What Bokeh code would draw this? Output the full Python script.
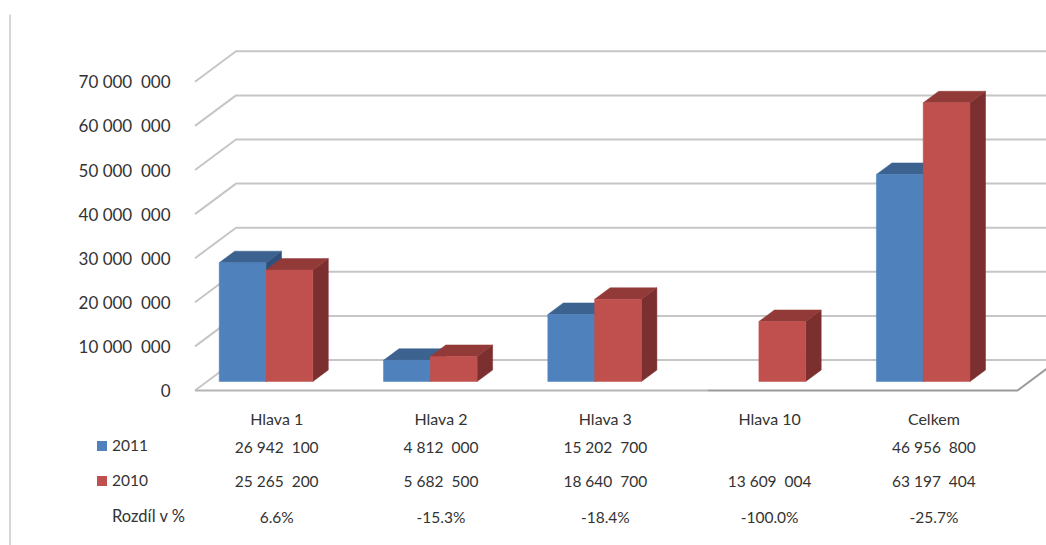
from bokeh.plotting import figure
from bokeh.models import LinearAxis, FixedTicker, ColumnDataSource, Range1d
from bokeh.core.properties import value
from bokeh.embed import file_html
from bokeh.resources import INLINE

categories = ["Hlava 1", "Hlava 2", "Hlava 3", "Hlava 10", "Celkem"]
v2011 = [26942100, 4812000, 15202700, None, 46956800]
v2010 = [25265200, 5682500, 18640700, 13609004, 63197404]
NB = "\u00a0 "
row2011 = ["26 942" + NB + "100", "4 812" + NB + "000", "15 202" + NB + "700", "", "46 956" + NB + "800"]
row2010 = ["25 265" + NB + "200", "5 682" + NB + "500", "18 640" + NB + "700", "13 609" + NB + "004", "63 197" + NB + "404"]
rowdiff = ["6.6%", "-15.3%", "-18.4%", "-100.0%", "-25.7%"]
yticks = [0, 10000000, 20000000, 30000000, 40000000, 50000000, 60000000, 70000000]
yticklabels = ["0", "10 000" + NB + "000", "20 000" + NB + "000", "30 000" + NB + "000", "40 000" + NB + "000",
               "50 000" + NB + "000", "60 000" + NB + "000", "70 000" + NB + "000"]

W, H = 1046, 545
FONT = "Lato"
TXT = "#333333"
GRID = "#c6c6c6"
FLOOR_L = "#b4b4b4"
FLOOR_R = "#9a9a9a"

# page pixels <-> data
X0, XS = 276.2, 164.3      # page x of label of group 0, page px per group
Y0, YS = 390.0, 44.1 / 1e7 # page y of value 0 (front plane), page px per unit
def dx(px): return px / XS
def dy(px): return px / YS
def fx(px): return (px - X0) / XS
def fy(py): return (Y0 - py) / YS

p = figure(width=W, height=H, output_backend="svg", toolbar_location=None,
           x_range=Range1d(fx(0), fx(W)), y_range=Range1d(fy(H), fy(0)),
           min_border=0, min_border_left=0, min_border_right=0,
           min_border_top=0, min_border_bottom=0, x_axis_type=None, y_axis_type=None)
p.outline_line_color = None
p.background_fill_color = "white"
p.grid.visible = False

# wall
front_l, front_r = fx(194.5), fx(1017)
wall_dx, wall_dy = dx(41), dy(30.5)
for t in yticks[1:]:
    p.line([front_l, front_l + wall_dx, front_r + wall_dx],
           [t, t + wall_dy, t + wall_dy], line_color=GRID, line_width=2)
p.line([front_l, front_l + wall_dx, front_r + wall_dx],
       [0, wall_dy, wall_dy], line_color=GRID, line_width=2)
p.line([front_l, fx(707)], [0, 0], line_color=FLOOR_L, line_width=2)
p.line([fx(707), front_r, front_r + wall_dx], [0, 0, wall_dy], line_color=FLOOR_R, line_width=2)

# left rule
p.line([fx(9.5), fx(9.5)], [fy(545), fy(14)], line_color="#c8c8c8", line_width=1.5)

# bars
BW = dx(46.8)
D_X, D_Y = dx(15.5), dy(11.5)
BASE = dy(9)
SHIFT = dx(10.7)

def draw(vals, off, front, top, side):
    for i, v in enumerate(vals):
        if v is None:
            continue
        l = i - SHIFT + off
        r = l + BW
        t = v + BASE
        p.patch([r, r + D_X, r + D_X, r], [BASE, BASE + D_Y, t + D_Y, t],
                fill_color=side, line_color=side, line_width=0.5)
        p.patch([l, l + D_X, r + D_X, r], [t, t + D_Y, t + D_Y, t],
                fill_color=top, line_color=top, line_width=0.5)
        p.quad(left=l, right=r, bottom=BASE, top=t, fill_color=front,
               line_color=front, line_width=0.5)

draw(v2011, -BW, "#4f81bd", "#3c6290", "#30507a")
draw(v2010, 0, "#c0504d", "#923a38", "#7b2f2e")

# axes
ya = LinearAxis(fixed_location=fx(176), ticker=FixedTicker(ticks=yticks),
                major_label_overrides={t: l for t, l in zip(yticks, yticklabels)})
ya.axis_line_color = None
ya.major_tick_line_color = None
ya.minor_tick_line_color = None
ya.major_tick_in = 0
ya.major_tick_out = 0
ya.major_label_standoff = 6
ya.major_label_text_font = FONT
ya.major_label_text_font_size = "17px"
ya.major_label_text_color = TXT
p.add_layout(ya, "left")

xa = LinearAxis(fixed_location=fy(408), ticker=FixedTicker(ticks=list(range(5))),
                major_label_overrides={i: c for i, c in enumerate(categories)})
xa.axis_line_color = None
xa.major_tick_line_color = None
xa.minor_tick_line_color = None
xa.major_tick_in = 0
xa.major_tick_out = 0
xa.major_label_standoff = 0
xa.major_label_text_font = FONT
xa.major_label_text_font_size = "16px"
xa.major_label_text_color = TXT
p.add_layout(xa, "below")

# data table
for row, py in ((row2011, 446), (row2010, 480.5), (rowdiff, 516.5)):
    src = ColumnDataSource(dict(x=list(range(5)), y=[fy(py)] * 5, t=row))
    p.text("x", "y", text="t", source=src, text_align="center", text_baseline="middle",
           text_font=value(FONT), text_font_size="15.5px", text_color=TXT)

# legend
for py, c, label, size in ((445.5, "#4f81bd", "2011", "15.5px"), (480.5, "#c0504d", "2010", "15.5px"),
                           (None, None, "Rozdíl v %", "16.5px")):
    if py is not None:
        p.quad(left=fx(96.5), right=fx(106.5), bottom=fy(py + 5), top=fy(py - 5),
               fill_color=c, line_color=None)
    p.text([fx(111.5)], [fy(py - 1 if py is not None else 515)], text=[label], text_baseline="middle",
           text_font=value(FONT), text_font_size=size, text_color=TXT)

open("out.html", "w").write(file_html(p, INLINE))
